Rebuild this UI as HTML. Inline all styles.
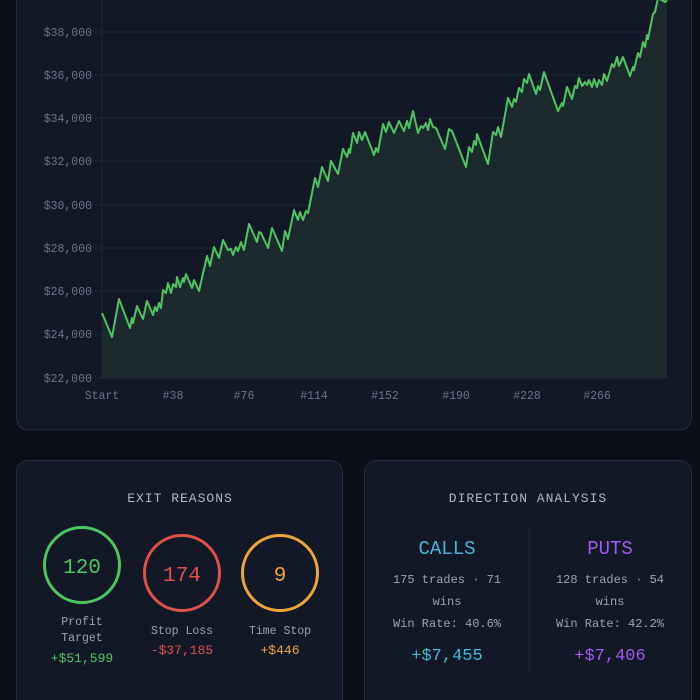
<!DOCTYPE html>
<html><head><meta charset="utf-8"><style>
html,body{margin:0;padding:0;background:#0b0f17;width:700px;height:700px;overflow:hidden}
svg{display:block}
text{font-family:"Liberation Mono","DejaVu Sans Mono",monospace}
</style></head><body>
<svg width="700" height="700" viewBox="0 0 700 700">
<rect x="0" y="0" width="700" height="700" fill="#0b0f17"/>
<!-- top card -->
<rect x="16.5" y="-20" width="675" height="450" rx="12" fill="#121826" stroke="#262d3b"/>
<g stroke="#1e2634" stroke-width="1">
<line x1="95" y1="32" x2="667" y2="32"/><line x1="95" y1="75" x2="667" y2="75"/>
<line x1="95" y1="118" x2="667" y2="118"/><line x1="95" y1="161" x2="667" y2="161"/>
<line x1="95" y1="205" x2="667" y2="205"/><line x1="95" y1="248" x2="667" y2="248"/>
<line x1="95" y1="291" x2="667" y2="291"/><line x1="95" y1="334" x2="667" y2="334"/>
<line x1="95" y1="378" x2="667" y2="378"/><line x1="102" y1="0" x2="102" y2="378"/>
</g>
<g font-size="11.5" fill="#6b7588" text-anchor="end">
<text x="92" y="36">$38,000</text><text x="92" y="79">$36,000</text><text x="92" y="122">$34,000</text>
<text x="92" y="165">$32,000</text><text x="92" y="209">$30,000</text><text x="92" y="252">$28,000</text>
<text x="92" y="295">$26,000</text><text x="92" y="338">$24,000</text><text x="92" y="382">$22,000</text>
</g>
<g font-size="11.5" fill="#6b7588" text-anchor="middle">
<text x="102" y="399">Start</text><text x="173" y="399">#38</text><text x="244" y="399">#76</text>
<text x="314" y="399">#114</text><text x="385" y="399">#152</text><text x="456" y="399">#190</text>
<text x="527" y="399">#228</text><text x="597" y="399">#266</text>
</g>
<polygon fill="#1c2a2e" points="102,378 102,313 112,337 119,299 130,328 132,318 133,323 137,306 143,319 147,301 153,315 155,307 157,311 159,303 161,308 163,290 166,293 168,283 171,293 173,284 176,287 177,277 180,287 183,278 184,282 186,274 192,288 194,280 199,291 207,256 210,266 214,247 219,258 223,240 228,250 231,249 233,255 236,247 238,251 241,242 244,250 249,224 257,242 259,232 261,233 268,248 272,228 282,251 285,231 288,239 294,210 298,220 300,212 303,220 306,211 308,213 315,178 318,187 322,167 328,181 331,161 338,174 343,149 347,157 349,149 350,153 353,133 357,143 359,132 362,140 365,132 374,155 376,148 378,152 383,124 386,132 389,122 394,133 399,121 404,131 407,121 409,128 413,111 418,133 421,126 423,128 426,123 428,130 430,119 433,127 436,128 445,149 449,129 452,131 466,167 469,147 472,152 474,141 476,145 477,134 488,164 493,132 496,135 498,127 501,137 508,98 512,107 514,99 516,102 519,88 522,92 524,79 527,83 529,74 536,94 538,86 540,90 544,72 558,111 562,103 563,106 567,87 572,99 575,86 577,88 579,78 582,86 585,82 587,85 589,80 592,87 594,79 597,87 599,80 602,85 604,74 607,81 612,64 614,67 617,57 619,66 623,57 630,76 633,67 634,70 638,53 640,57 643,42 645,47 647,35 648,39 653,14 655,12 658,-2 665,2 667,0 667,378"/>
<polyline fill="none" stroke="#4fc463" stroke-width="2" stroke-linejoin="round" points="102,313 112,337 119,299 130,328 132,318 133,323 137,306 143,319 147,301 153,315 155,307 157,311 159,303 161,308 163,290 166,293 168,283 171,293 173,284 176,287 177,277 180,287 183,278 184,282 186,274 192,288 194,280 199,291 207,256 210,266 214,247 219,258 223,240 228,250 231,249 233,255 236,247 238,251 241,242 244,250 249,224 257,242 259,232 261,233 268,248 272,228 282,251 285,231 288,239 294,210 298,220 300,212 303,220 306,211 308,213 315,178 318,187 322,167 328,181 331,161 338,174 343,149 347,157 349,149 350,153 353,133 357,143 359,132 362,140 365,132 374,155 376,148 378,152 383,124 386,132 389,122 394,133 399,121 404,131 407,121 409,128 413,111 418,133 421,126 423,128 426,123 428,130 430,119 433,127 436,128 445,149 449,129 452,131 466,167 469,147 472,152 474,141 476,145 477,134 488,164 493,132 496,135 498,127 501,137 508,98 512,107 514,99 516,102 519,88 522,92 524,79 527,83 529,74 536,94 538,86 540,90 544,72 558,111 562,103 563,106 567,87 572,99 575,86 577,88 579,78 582,86 585,82 587,85 589,80 592,87 594,79 597,87 599,80 602,85 604,74 607,81 612,64 614,67 617,57 619,66 623,57 630,76 633,67 634,70 638,53 640,57 643,42 645,47 647,35 648,39 653,14 655,12 658,-2 665,2 667,0"/>
<!-- exit reasons card -->
<rect x="16.5" y="460.5" width="326" height="260" rx="12" fill="#121826" stroke="#262d3b"/>
<text x="180" y="502" font-size="13" fill="#aeb6c4" text-anchor="middle" letter-spacing="1">EXIT REASONS</text>
<circle cx="82" cy="565" r="37.5" fill="none" stroke="#4fc463" stroke-width="3"/>
<text x="82" y="573" font-size="21" fill="#4fc463" text-anchor="middle">120</text>
<circle cx="182" cy="573" r="37.5" fill="none" stroke="#e0504b" stroke-width="3"/>
<text x="182" y="581" font-size="21" fill="#e0504b" text-anchor="middle">174</text>
<circle cx="280" cy="573" r="37.5" fill="none" stroke="#f0a53a" stroke-width="3"/>
<text x="280" y="581" font-size="21" fill="#f0a53a" text-anchor="middle">9</text>
<g font-size="11.5" fill="#9aa3b2" text-anchor="middle">
<text x="82" y="625">Profit</text><text x="82" y="641">Target</text>
<text x="182" y="634">Stop Loss</text><text x="280" y="634">Time Stop</text>
</g>
<text x="82" y="662" font-size="13" fill="#4fc463" text-anchor="middle">+$51,599</text>
<text x="182" y="654" font-size="13" fill="#e0504b" text-anchor="middle">-$37,185</text>
<text x="280" y="654" font-size="13" fill="#f0a53a" text-anchor="middle">+$446</text>
<!-- direction card -->
<rect x="364.5" y="460.5" width="327" height="260" rx="12" fill="#121826" stroke="#262d3b"/>
<text x="528" y="502" font-size="13" fill="#aeb6c4" text-anchor="middle" letter-spacing="1">DIRECTION ANALYSIS</text>
<line x1="529" y1="527" x2="529" y2="672" stroke="#222a38"/>
<text x="447" y="554" font-size="19" fill="#49b6d6" text-anchor="middle">CALLS</text>
<text x="610" y="554" font-size="19" fill="#a05af0" text-anchor="middle">PUTS</text>
<g font-size="12" fill="#9aa3b2" text-anchor="middle">
<text x="447" y="583">175 trades · 71</text><text x="447" y="605">wins</text><text x="447" y="627">Win Rate: 40.6%</text>
<text x="610" y="583">128 trades · 54</text><text x="610" y="605">wins</text><text x="610" y="627">Win Rate: 42.2%</text>
</g>
<text x="447" y="660" font-size="17" fill="#49b6d6" text-anchor="middle">+$7,455</text>
<text x="610" y="660" font-size="17" fill="#a05af0" text-anchor="middle">+$7,406</text>
</svg>
</body></html>
